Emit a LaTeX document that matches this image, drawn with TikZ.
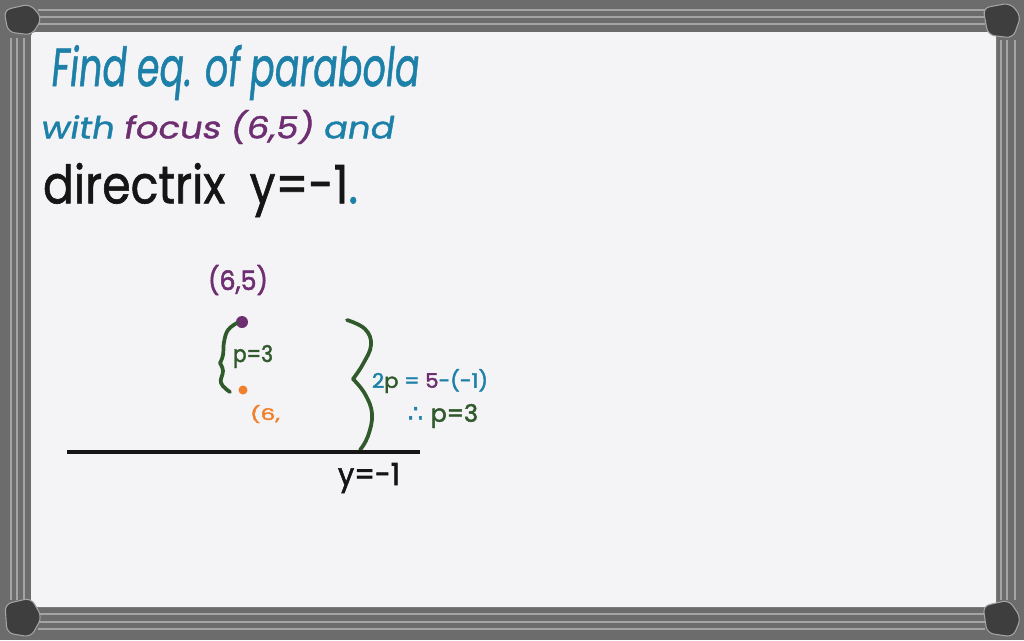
\documentclass[tikz,border=0pt]{standalone}
\usepackage{fontspec}
\setmainfont{Poppins}
\newfontfamily\slfont{Poppins}[FakeSlant=0.15,FakeBold=1.2]
\newfontfamily\bdfont{Poppins}[FakeBold=2]
\newfontfamily\mdfont{Poppins}[FakeBold=1.2]
\newfontfamily\dvfont{DejaVu Sans}[FakeBold=2]
\newlength\px \setlength\px{0.75pt}
\newcommand\fitt[3]{\resizebox*{#1\px}{#2\px}{#3}}
\definecolor{frm}{HTML}{6C6C6C}
\definecolor{frmlt}{HTML}{A4A4A4}
\definecolor{crn}{HTML}{3E3E3E}
\definecolor{board}{HTML}{F4F3F5}
\definecolor{tblue}{HTML}{1C80A8}
\definecolor{ppl}{HTML}{6E2E72}
\definecolor{grn}{HTML}{305A2C}
\definecolor{org}{HTML}{F0802C}
\definecolor{ink}{HTML}{151515}
\begin{document}
\begin{tikzpicture}[x=0.75pt,y=-0.75pt,
  txt/.style={anchor=north west,inner sep=0pt,outer sep=0pt},
  stripe/.style={frmlt,line width=0.9pt},
  corner/.style={fill=crn,draw=frmlt,line width=0.8pt,rounded corners=5pt},
  bracestroke/.style={grn,line width=2.8pt,line cap=round,line join=round},
  dot/.style={circle,inner sep=0pt,outer sep=0pt}]
\useasboundingbox (0,0) rectangle (1024,640);
% frame
\fill[frm] (0,0) rectangle (1024,640);
\foreach \yy in {10,17,24}{\draw[stripe] (38,\yy) -- (985,\yy);}
\foreach \yy in {614,622,629}{\draw[stripe] (38,\yy) -- (985,\yy);}
\foreach \xx in {11,17,24}{\draw[stripe] (\xx,38) -- (\xx,600);}
\foreach \xx in {1001,1007,1015}{\draw[stripe] (\xx,40) -- (\xx,600);}
% board
\fill[board, rounded corners=3pt] (31,32) rectangle (996,607);
% corner pieces
\draw[corner] (4,10) -- (30,4) -- (42,18) -- (32,35) -- (8,32) -- cycle;
\draw[corner] (983,8) -- (1010,3) -- (1021,16) -- (1013,38) -- (988,35) -- cycle;
\draw[corner] (5,604) -- (31,598) -- (42,617) -- (31,637) -- (7,633) -- cycle;
\draw[corner] (983,606) -- (1009,600) -- (1021,618) -- (1013,637) -- (987,633) -- cycle;

% title lines
\node[txt] (l1) at (50,45) {\fitt{368}{55}{\color{tblue}\slfont Find eq. of parabola}};
\node[txt] (l2) at (40,110) {\fitt{353}{34}{\slfont\color{tblue}with \color{ppl}focus (6,5) \color{tblue}and}};
\node[txt] (l3) at (43,163) {\fitt{315}{54}{\mdfont\color{ink}directrix \ y=-1\color{tblue}.}};

% focus
\node[txt] (f5) at (208,265) {\fitt{60}{30}{\bdfont\color{ppl}(6,5)}};
\node[dot,fill=ppl,minimum size=12\px] (fdot) at (242,322) {};
\node[dot,fill=org,minimum size=9\px] (vdot) at (243,390) {};
\node[txt] (vlab) at (250,405) {\fitt{30}{18}{\bdfont\color{org}(6,}};
\node[txt] (p3a) at (233,345) {\fitt{40}{23}{\bdfont\color{grn}p=3}};

% small brace
\draw[bracestroke] plot[smooth,tension=0.7] coordinates {(237,323) (228,330) (224,342) (223,355) (220,363)};
\draw[bracestroke] plot[smooth,tension=0.7] coordinates {(220,363) (223,371) (221,383) (230,392)};

% big brace
\draw[bracestroke] plot[smooth,tension=0.7] coordinates {(347,320) (365,329) (371,345) (363,364) (353,379)};
\draw[bracestroke] plot[smooth,tension=0.7] coordinates {(353,379) (365,394) (372,414) (368,436) (360,450)};

\node[txt] (eq) at (372,369) {\fitt{116}{24}{\bdfont\color{tblue}2\color{grn}p \color{tblue}= \color{ppl}5\color{tblue}-(-1)}};
\node[txt] (thr) at (408,404) {\fitt{70}{24}{\color{tblue}\dvfont ∴ \color{grn}\bdfont p=3}};

% directrix
\coordinate (dl) at (67,452);
\coordinate (dr) at (420,452);
\draw[ink,line width=2.4pt] (dl) -- (dr);
\node[txt] (ylab) at (338,463) {\fitt{62}{30}{\bdfont\color{ink}y=-1}};
\end{tikzpicture}
\end{document}
